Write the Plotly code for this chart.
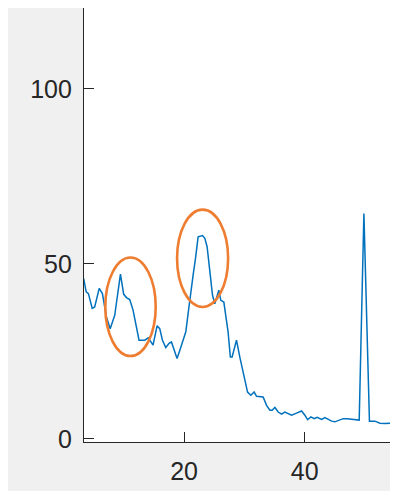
import plotly.graph_objects as go

# ---- data ----
x_vals = [3.37, 3.78, 4.15, 4.78, 5.19, 5.94, 6.47, 6.85, 7.13, 7.76, 8.51, 9.46, 10.0, 10.5, 11.0,
          11.55, 12.11, 12.54, 13.49, 14.07, 14.86, 15.53, 15.97, 16.42, 16.97, 17.52, 17.91, 18.46,
          18.84, 19.41, 19.84, 20.29, 20.67, 21.07, 21.5, 21.89, 22.33, 23.06, 23.44, 23.82, 24.27,
          24.71, 25.09, 25.38, 25.76, 26.09, 26.59, 27.3, 27.67, 27.96, 28.69, 29.24, 29.79, 30.52,
          31.06, 31.61, 32.01, 32.56, 33.1, 33.67, 34.22, 34.6, 35.05, 35.59, 36.16, 36.7, 37.25,
          37.81, 38.64, 39.47, 40.02, 40.47, 41.02, 41.56, 42.06, 42.79, 43.34, 43.88, 44.45, 44.99,
          45.71, 46.37, 47.03, 47.76, 48.48, 49.02, 49.8, 50.72, 51.63, 52.46, 53.29, 54.12, 54.95, 55.5]
y_vals = [45.8, 42.0, 41.5, 37.3, 37.7, 43.0, 41.5, 38.2, 34.9, 31.5, 35.3, 47.1, 41.3, 40.3, 39.8,
          36.8, 32.0, 28.2, 28.2, 28.9, 26.8, 32.3, 31.5, 28.2, 26.1, 27.3, 27.7, 24.9,
          23.0, 25.9, 28.2, 30.6, 35.8, 42.0, 46.8, 51.5, 57.7, 58.1, 57.3, 54.9, 47.7,
          41.1, 38.6, 40.1, 42.5, 39.6, 39.1, 30.5, 23.4, 23.4, 28.2, 23.4, 18.7, 13.4,
          12.5, 13.4, 12.2, 12.2, 12.0, 9.6, 8.2, 8.2, 9.0, 7.7, 7.1, 7.7, 7.3,
          6.8, 7.4, 8.0, 6.8, 5.5, 6.3, 5.8, 6.2, 5.6, 6.1, 5.6, 5.1, 4.9,
          5.4, 5.8, 5.8, 5.6, 5.4, 5.4, 64.4, 5.1, 5.1, 4.5, 4.4, 4.5, 4.3, 4.3]

x_ticks = [20, 40]
y_ticks = [0, 50, 100]
x_range = [3.42, 55.45]
y_range = [-0.86, 123.06]

# highlighted regions (ellipses): [x0, x1, y0, y1]
ellipse_1 = [6.95, 15.3, 23.7, 51.8]
ellipse_2 = [18.84, 27.3, 37.7, 65.5]

W, H = 390, 483
L, R, T, B = 76, 0, 0, 49

AX = "#262626"
FONT = dict(family="Liberation Sans, Arial, Helvetica, sans-serif", size=25, color=AX)

fig = go.Figure()
fig.add_trace(go.Scatter(x=x_vals, y=y_vals, mode="lines",
                         line=dict(color="#0072BD", width=1.5), hoverinfo="skip"))

shapes = []
for e in (ellipse_1, ellipse_2):
    shapes.append(dict(type="circle", xref="x", yref="y", x0=e[0], x1=e[1], y0=e[2], y1=e[3],
                       line=dict(color="#EE7D31", width=2.6), layer="above"))

fig.update_layout(
    width=W, height=H,
    margin=dict(l=L, r=R, t=T, b=B, pad=0),
    paper_bgcolor="#F0F0F0",
    plot_bgcolor="white",
    showlegend=False,
    shapes=shapes,
    font=FONT,
)
fig.update_xaxes(range=x_range, tickvals=x_ticks, ticks="inside", ticklen=10, tickwidth=1.2,
                 tickcolor=AX, showline=True, linecolor=AX, linewidth=1.3, mirror=False,
                 showgrid=False, zeroline=False, tickfont=FONT, ticklabelstandoff=7)
fig.update_yaxes(range=y_range, tickvals=y_ticks, ticks="inside", ticklen=10, tickwidth=1.2,
                 tickcolor=AX, showline=True, linecolor=AX, linewidth=1.3, mirror=False,
                 showgrid=False, zeroline=False, tickfont=FONT, ticklabelstandoff=6)

fig.write_html("out.html")
